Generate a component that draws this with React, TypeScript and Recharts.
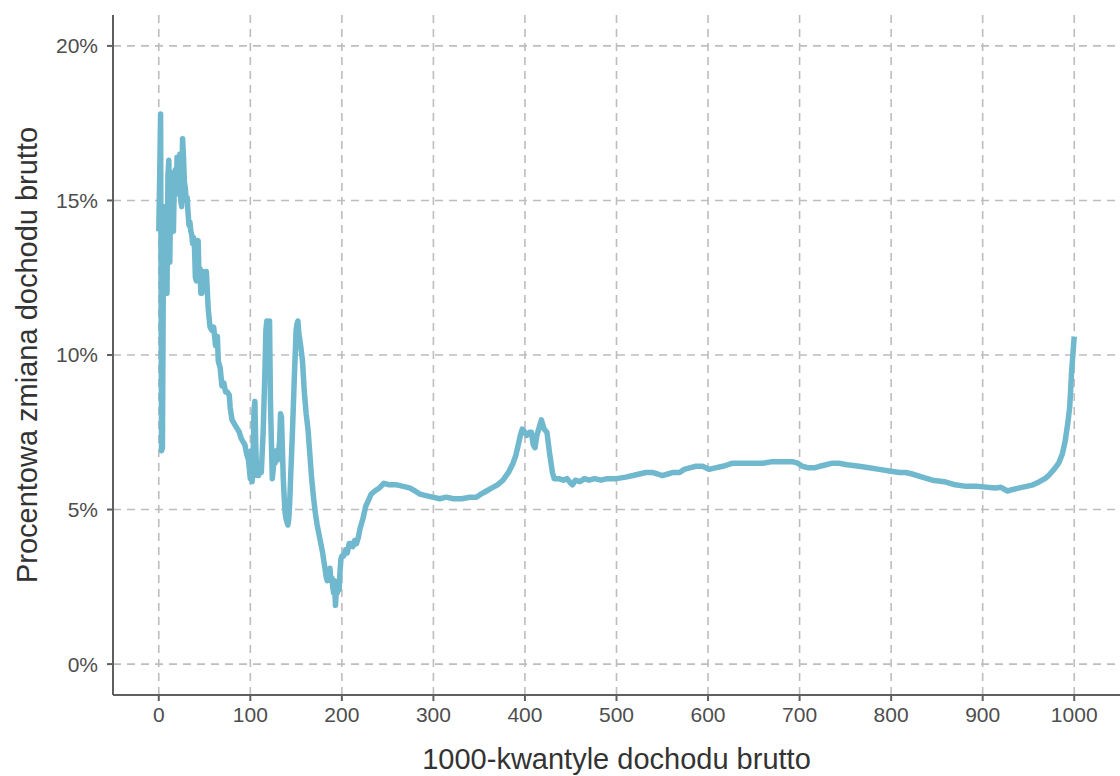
import { CartesianGrid, Label, Line, LineChart, XAxis, YAxis } from "recharts";

// 1000-quantiles of gross income and % change
const kwantyl = [
  0, 1, 2, 3, 4, 5, 6, 7, 8, 9, 10, 11, 12, 13, 14, 15, 16, 17, 18, 19, 20, 21, 22, 23, 24, 25, 26, 27, 28, 29,
  30, 31, 32, 33, 34, 35, 36, 37, 38, 39, 40, 41, 42, 43, 44, 45, 46, 47, 48, 49, 50, 52, 54, 56, 58, 60, 62, 64,
  65, 67, 69, 71, 73, 75, 77, 78, 80, 82, 84, 86, 88, 90, 92, 94, 96, 98, 99, 100, 101, 102, 103, 104, 105, 106,
  107, 108, 109, 110, 112, 114, 116, 117, 118, 119, 120, 121, 122, 123, 124, 125, 126, 127, 128, 130, 132, 133,
  134, 135, 136, 137, 138, 139, 140, 141, 142, 143, 144, 146, 148, 150, 151, 152, 153, 155, 157, 159, 161, 163,
  165, 167, 169, 171, 173, 175, 177, 179, 181, 183, 184, 185, 186, 187, 188, 189, 190, 191, 192, 193, 194, 195,
  196, 197, 198, 199, 200, 202, 204, 206, 208, 210, 212, 214, 216, 218, 220, 223, 226, 229, 232, 236, 241, 246,
  252, 260, 267, 274, 280, 285, 292, 299, 307, 314, 322, 331, 340, 347, 352, 358, 364, 370, 376, 382, 387, 390,
  392, 395, 397, 400, 402, 405, 407, 409, 411, 413, 416, 418, 421, 424, 427, 430, 432, 437, 442, 446, 450, 452,
  455, 460, 465, 470, 476, 483, 490, 500, 510, 518, 525, 532, 539, 545, 550, 556, 562, 569, 574, 580, 587, 594,
  601, 608, 616, 622, 627, 635, 648, 660, 670, 680, 692, 698, 703, 710, 716, 722, 729, 736, 743, 752, 765, 776,
  787, 798, 809, 816, 823, 834, 845, 858, 870, 882, 895, 905, 914, 920, 927, 933, 940, 948, 955, 962, 968, 972,
  978, 983, 987, 990, 993, 995, 996, 997, 998, 999, 1000,
];

const zmiana = [
  14.0, 15.8, 17.8, 6.9, 7.0, 12.6, 14.8, 12.1, 13.5, 12.0, 15.8, 16.3, 13.0, 15.0, 15.9, 14.2, 14.0, 15.6, 16.0,
  15.2, 16.4, 15.4, 16.1, 16.5, 15.0, 14.8, 17.0, 16.4, 15.6, 15.4, 15.0, 15.1, 14.6, 14.2, 14.3, 14.0, 13.9, 13.6,
  13.8, 13.5, 12.5, 12.4, 13.6, 13.7, 12.5, 12.8, 12.0, 12.0, 12.7, 12.6, 12.3, 12.7, 11.5, 10.9, 10.8, 10.9, 10.3,
  10.6, 9.8, 9.6, 9.0, 9.1, 8.8, 8.8, 8.7, 8.3, 7.9, 7.8, 7.7, 7.6, 7.5, 7.3, 7.2, 7.1, 6.8, 6.6, 6.3, 6.0, 6.9, 5.9,
  6.5, 8.2, 8.5, 7.0, 6.1, 6.4, 6.1, 6.3, 6.2, 7.5, 9.5, 10.8, 11.1, 10.5, 9.3, 11.1, 8.5, 7.2, 6.0, 6.3, 6.8, 6.5,
  6.9, 6.6, 7.2, 8.1, 8.0, 7.0, 6.0, 5.4, 4.9, 4.7, 4.6, 4.5, 4.7, 5.2, 6.0, 7.5, 9.2, 10.8, 11.0, 11.1, 10.7, 10.3,
  9.8, 8.8, 8.1, 7.6, 6.8, 6.0, 5.4, 4.9, 4.5, 4.2, 3.9, 3.6, 3.2, 2.8, 2.7, 3.0, 2.9, 3.1, 2.7, 2.8, 2.5, 2.3, 2.7,
  1.9, 2.4, 2.3, 2.6, 2.4, 3.0, 3.4, 3.5, 3.5, 3.7, 3.6, 3.9, 3.9, 3.8, 4.0, 3.9, 4.1, 4.4, 4.7, 5.1, 5.3, 5.5, 5.6,
  5.7, 5.85, 5.8, 5.8, 5.75, 5.7, 5.6, 5.5, 5.45, 5.4, 5.35, 5.4, 5.35, 5.35, 5.4, 5.4, 5.5, 5.6, 5.7, 5.8, 5.95,
  6.2, 6.5, 6.75, 7.0, 7.4, 7.6, 7.5, 7.4, 7.5, 7.5, 7.1, 7.0, 7.4, 7.7, 7.9, 7.6, 7.5, 6.8, 6.2, 6.0, 6.0, 5.95,
  6.0, 5.85, 5.8, 5.95, 5.9, 6.0, 5.95, 6.0, 5.95, 6.0, 6.0, 6.05, 6.1, 6.15, 6.2, 6.2, 6.15, 6.1, 6.15, 6.2, 6.2,
  6.3, 6.35, 6.4, 6.4, 6.3, 6.35, 6.4, 6.45, 6.5, 6.5, 6.5, 6.5, 6.55, 6.55, 6.55, 6.5, 6.4, 6.35, 6.35, 6.4, 6.45,
  6.5, 6.5, 6.45, 6.4, 6.35, 6.3, 6.25, 6.2, 6.2, 6.15, 6.05, 5.95, 5.9, 5.8, 5.75, 5.75, 5.72, 5.7, 5.72, 5.6,
  5.65, 5.7, 5.75, 5.8, 5.9, 6.0, 6.1, 6.3, 6.5, 6.8, 7.2, 7.8, 8.3, 8.8, 9.4, 9.8, 10.2, 10.6,
];

const xTicks = [0, 100, 200, 300, 400, 500, 600, 700, 800, 900, 1000];
const yTicks = [0, 5, 10, 15, 20];

const data = kwantyl.map((q, i) => ({ q, v: zmiana[i] }));

const axisColor = "#5f5f5f";
const font = "'Liberation Sans', Arial, sans-serif";

const App = () => {
  return (
    <div style={{ position: "absolute", left: 0, top: 0, background: "#fff" }}>
      <LineChart width={1120} height={776} data={data} margin={{ top: 15, right: 0, bottom: 0, left: 0 }}>
        <CartesianGrid
          stroke="#bdbdbd"
          strokeWidth={1.6}
          strokeDasharray="8 6"
          horizontalValues={yTicks}
          verticalValues={xTicks}
        />
        <XAxis
          dataKey="q"
          type="number"
          domain={[-50, 1050]}
          ticks={xTicks}
          allowDataOverflow
          height={81}
          axisLine={{ stroke: axisColor, strokeWidth: 2 }}
          tickLine={{ stroke: axisColor, strokeWidth: 2 }}
          tickSize={6}
          tickMargin={6}
          tick={{ fill: "#4d4d4d", fontSize: 21, fontFamily: font }}
        >
          <Label
            value="1000-kwantyle dochodu brutto"
            position="insideBottom"
            offset={7}
            style={{ fill: "#333", fontSize: 29, fontFamily: font }}
          />
        </XAxis>
        <YAxis
          type="number"
          domain={[-1, 21]}
          ticks={yTicks}
          allowDataOverflow
          width={113}
          tickFormatter={(v) => `${v}%`}
          axisLine={{ stroke: axisColor, strokeWidth: 2 }}
          tickLine={{ stroke: axisColor, strokeWidth: 2 }}
          tickSize={6}
          tickMargin={9}
          tick={{ fill: "#4d4d4d", fontSize: 21, fontFamily: font }}
        >
          <Label
            value="Procentowa zmiana dochodu brutto"
            angle={-90}
            position="center"
            dx={-30}
            style={{ fill: "#333", fontSize: 29, fontFamily: font, textAnchor: "middle" }}
          />
        </YAxis>
        <Line
          dataKey="v"
          type="linear"
          stroke="#70b8cd"
          strokeWidth={5.5}
          strokeLinejoin="round"
          dot={false}
          isAnimationActive={false}
        />
      </LineChart>
    </div>
  );
};

export default App;
